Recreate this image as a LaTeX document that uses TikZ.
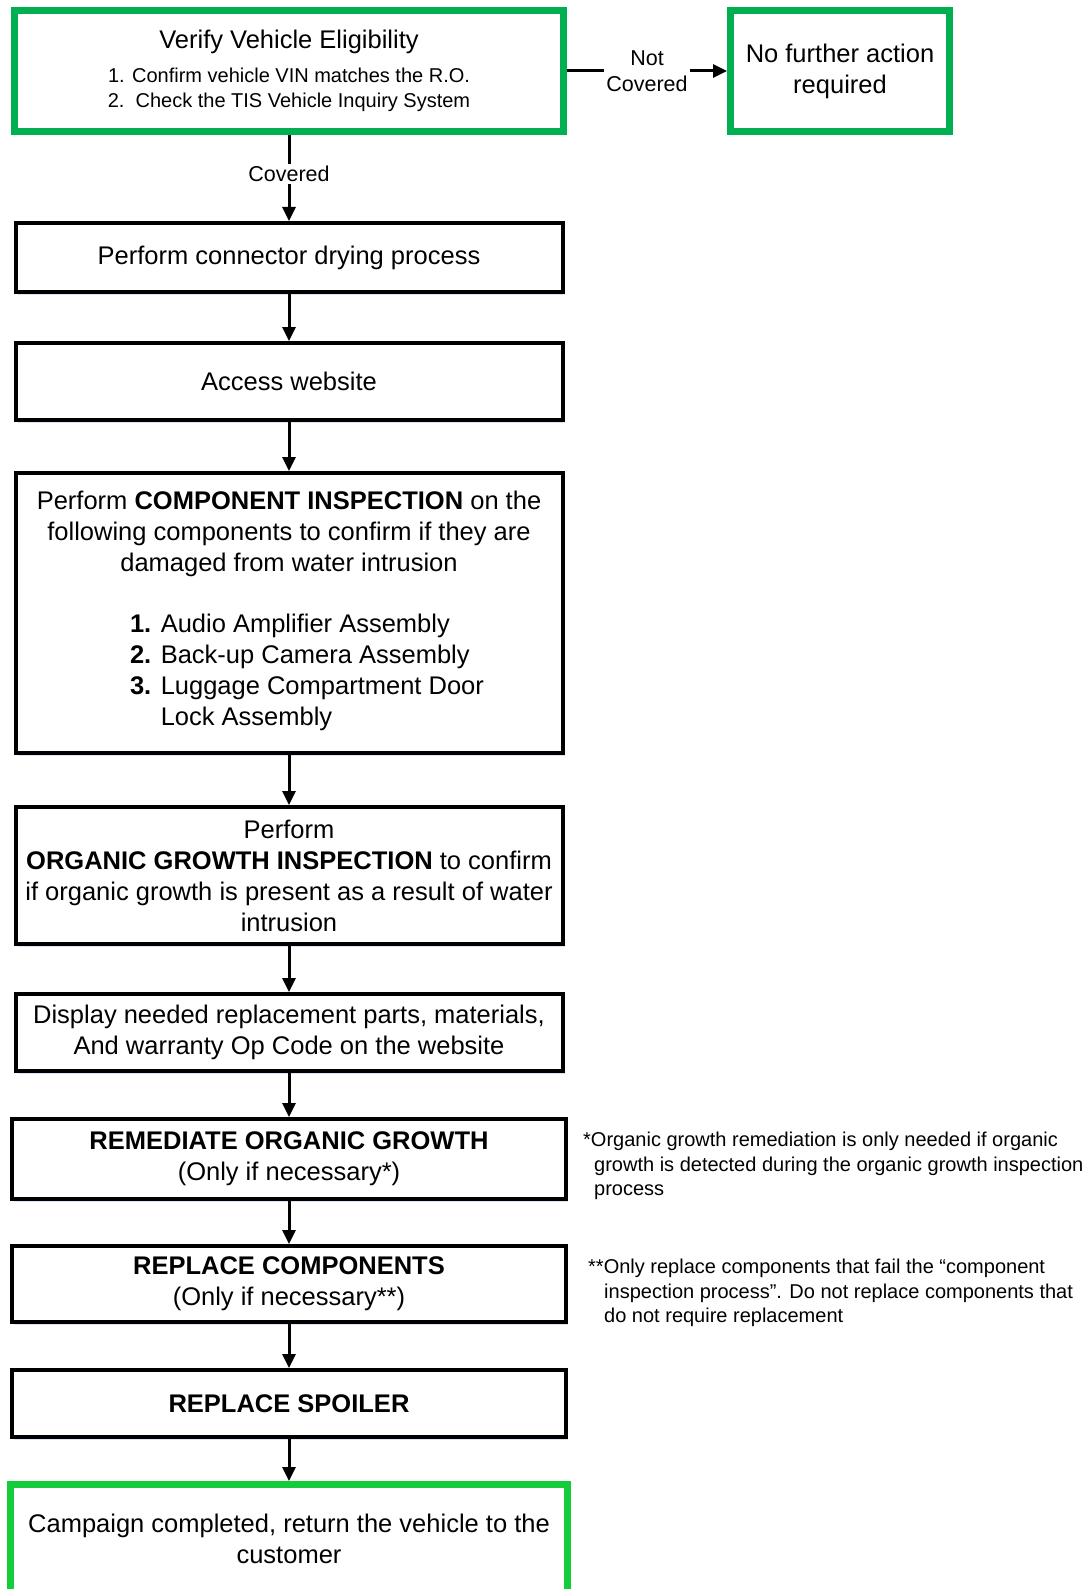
\documentclass[tikz,border=0pt]{standalone}
\usepackage{fontspec}
\setmainfont{Liberation Sans}
\usetikzlibrary{shapes,arrows.meta,shadows,positioning}
\definecolor{okGreen}{RGB}{0,176,80}
\definecolor{doneGreen}{RGB}{20,204,60}
\definecolor{glowBlue}{RGB}{218,229,245}

\tikzset{
  flowBox/.style={draw=black, line width=4pt, fill=white, align=center, inner sep=0pt,
    font=\fontsize{25.5}{31}\selectfont,
    drop shadow={shadow xshift=2pt, shadow yshift=-3pt, fill=glowBlue, opacity=1}},
  greenBox/.style={flowBox, line width=7pt},
  flowArrow/.style={-{Triangle[length=14pt,width=13pt]}, line width=3pt},
  arrowLabel/.style={fill=white, inner sep=2pt, align=center, font=\fontsize{21.5}{26}\selectfont},
  noteText/.style={anchor=north west, inner sep=0pt, align=left, font=\fontsize{20}{24.3}\selectfont}
}

\begin{document}
\begin{tikzpicture}[x=1pt,y=-1pt]

\def\colX{289}
\def\boxW{547}
\def\wideW{554}

\useasboundingbox (0,0) rectangle (1089,1589);
\clip (0,0) rectangle (1089,1589);

% draw the eligibility check
\node[greenBox, draw=okGreen, font=\fontsize{20}{25}\selectfont, minimum width=549pt, minimum height=121pt] (verifyBox) at (\colX,71)
  {\fontsize{25.5}{31}\selectfont Verify Vehicle Eligibility\\[8.5pt]
   1. Confirm vehicle VIN matches the R.O.\\
   2.\ \ Check the TIS Vehicle Inquiry System};
\node[greenBox, draw=okGreen, minimum width=219pt, minimum height=121pt] (noActionBox) at (840,71)
  {No further action\\required};

% draw the steps
\node[flowBox, minimum width=\boxW pt, minimum height=69pt] (dryingBox) at (\colX,257.5)
  {Perform connector drying process};
\node[flowBox, minimum width=\boxW pt, minimum height=77pt] (websiteBox) at (\colX,381.5)
  {Access website};
\node[flowBox, minimum width=\boxW pt, minimum height=280pt] (inspectBox) at (\colX,613)
  {Perform \textbf{COMPONENT INSPECTION} on the\\
   following components to confirm if they are\\
   damaged from water intrusion\\[30pt]
   \hspace*{36pt}\begin{tabular}[t]{@{}l@{ }l@{}}
     \textbf{1.} & Audio Amplifier Assembly\\
     \textbf{2.} & Back-up Camera Assembly\\
     \textbf{3.} & Luggage Compartment Door\\
                 & Lock Assembly
   \end{tabular}};
\node[flowBox, minimum width=\boxW pt, minimum height=137pt] (organicBox) at (\colX,875.5)
  {Perform\\
   \textbf{ORGANIC GROWTH INSPECTION} to confirm\\
   if organic growth is present as a result of water\\
   intrusion};
\node[flowBox, minimum width=\boxW pt, minimum height=77pt] (displayBox) at (\colX,1032.5)
  {Display needed replacement parts, materials,\\
   And warranty Op Code on the website};
\node[flowBox, minimum width=\wideW pt, minimum height=80pt] (remediateBox) at (\colX,1159)
  {\textbf{REMEDIATE ORGANIC GROWTH}\\(Only if necessary*)};
\node[flowBox, minimum width=\wideW pt, minimum height=76pt] (replaceBox) at (\colX,1284)
  {\textbf{REPLACE COMPONENTS}\\(Only if necessary**)};
\node[flowBox, minimum width=\wideW pt, minimum height=67pt] (spoilerBox) at (\colX,1403.5)
  {\textbf{REPLACE SPOILER}};
\node[greenBox, draw=doneGreen, minimum width=557pt, minimum height=109pt] (doneBox) at (\colX,1539)
  {Campaign completed, return the vehicle to the\\customer};

% draw the arrows
\draw[flowArrow] (verifyBox.east) -- node[arrowLabel] {Not\\Covered} (noActionBox.west);
\draw[flowArrow] (verifyBox.south) -- node[arrowLabel, pos=0.45] {Covered} (dryingBox.north);
\draw[flowArrow] (dryingBox.south) -- (websiteBox.north);
\draw[flowArrow] (websiteBox.south) -- (inspectBox.north);
\draw[flowArrow] (inspectBox.south) -- (organicBox.north);
\draw[flowArrow] (organicBox.south) -- (displayBox.north);
\draw[flowArrow] (displayBox.south) -- (remediateBox.north);
\draw[flowArrow] (remediateBox.south) -- (replaceBox.north);
\draw[flowArrow] (replaceBox.south) -- (spoilerBox.north);
\draw[flowArrow] (spoilerBox.south) -- (doneBox.north);

% the two footnotes
\node[noteText] (remediateNote) at (583,1132)
  {*Organic growth remediation is only needed if organic\\
   \hspace*{11pt}growth is detected during the organic growth inspection\\
   \hspace*{11pt}process};
\node[noteText] (replaceNote) at (588,1259)
  {**Only replace components that fail the “component\\
   \hspace*{16pt}inspection process”. Do not replace components that\\
   \hspace*{16pt}do not require replacement};

\end{tikzpicture}
\end{document}
